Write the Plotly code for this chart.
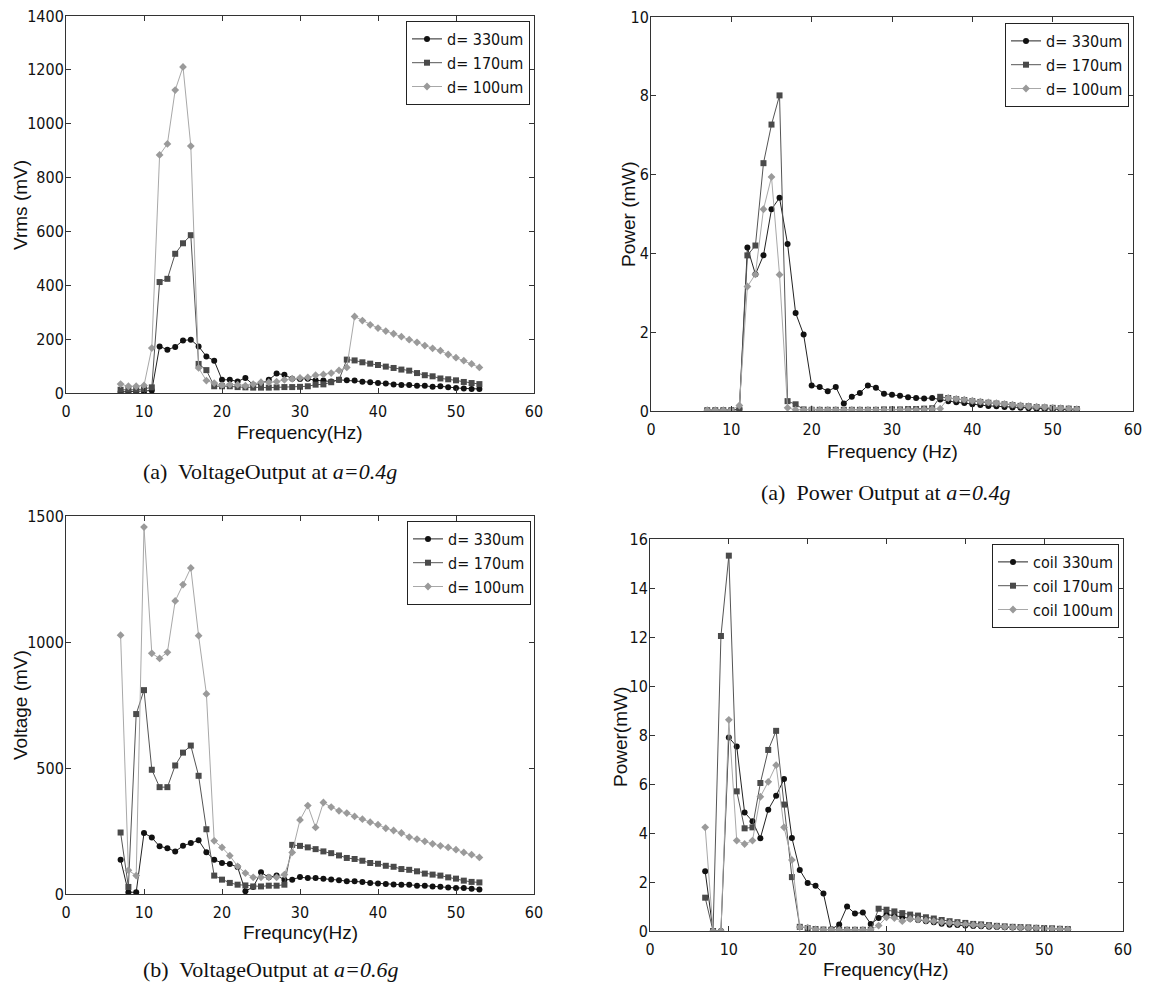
import plotly.graph_objects as go

# page body has an 8px margin: the figure is drawn from (8, 8)
OFF = 8
W, H = 1152 - OFF, 985 - OFF

freq = list(range(7, 54))

# ---- (a) Voltage output at a=0.4g (mV)
v04_330 = [4, 5, 5, 6, 9, 173, 161, 171, 195, 198, 173, 136, 120, 49, 49, 43, 56, 31, 35, 49,
           72, 68, 53, 52, 53, 47, 46, 43, 49, 47, 46, 42, 40, 37, 35, 32, 30, 30, 27, 27,
           23, 25, 21, 19, 17, 15, 15]
v04_170 = [12, 12, 12, 15, 21, 412, 424, 517, 556, 586, 108, 85, 25, 25, 25, 22, 21, 20, 20, 20,
           21, 22, 22, 23, 25, 31, 32, 40, 49, 124, 121, 114, 109, 104, 98, 93, 87, 83, 74, 66,
           62, 54, 51, 47, 41, 37, 33]
v04_100 = [33, 25, 25, 28, 167, 884, 925, 1125, 1211, 917, 93, 46, 37, 28, 31, 31, 27, 33, 40, 40,
           42, 49, 53, 56, 58, 66, 69, 74, 84, 95, 284, 269, 253, 241, 230, 220, 209, 198, 188, 176,
           166, 157, 143, 131, 120, 108, 95]

# ---- (a) Power output at a=0.4g (mW)
p04_330 = [0.02, 0.02, 0.02, 0.02, 0.05, 4.15, 3.47, 3.95, 5.12, 5.41, 4.24, 2.49, 1.94, 0.65, 0.61,
           0.50, 0.61, 0.19, 0.36, 0.46, 0.65, 0.59, 0.44, 0.41, 0.39, 0.35, 0.33, 0.32, 0.33, 0.29,
           0.25, 0.22, 0.20, 0.17, 0.15, 0.13, 0.12, 0.10, 0.09, 0.08, 0.07, 0.06, 0.05, 0.04, 0.04,
           0.03, 0.03]
p04_170 = [0.02, 0.02, 0.02, 0.02, 0.03, 3.95, 4.20, 6.29, 7.27, 8.01, 0.25, 0.17, 0.04, 0.03, 0.03,
           0.03, 0.03, 0.03, 0.03, 0.03, 0.03, 0.03, 0.04, 0.04, 0.04, 0.05, 0.05, 0.06, 0.07, 0.36,
           0.33, 0.30, 0.28, 0.25, 0.23, 0.21, 0.19, 0.17, 0.15, 0.13, 0.12, 0.10, 0.09, 0.08, 0.07,
           0.06, 0.05]
p04_100 = [0.02, 0.02, 0.02, 0.02, 0.14, 3.16, 3.47, 5.12, 5.94, 3.46, 0.08, 0.03, 0.03, 0.05, 0.03,
           0.03, 0.03, 0.03, 0.03, 0.03, 0.03, 0.03, 0.03, 0.03, 0.03, 0.03, 0.03, 0.04, 0.05, 0.06,
           0.33, 0.31, 0.29, 0.26, 0.24, 0.22, 0.20, 0.18, 0.16, 0.14, 0.12, 0.11, 0.10, 0.08, 0.07,
           0.06, 0.05]

# ---- (b) Voltage output at a=0.6g (mV)
v06_330 = [136, 7, 7, 242, 224, 189, 182, 169, 191, 202, 213, 166, 136, 123, 119, 107, 11, 28, 86, 66,
           73, 57, 57, 67, 63, 63, 61, 58, 55, 51, 51, 48, 44, 42, 40, 38, 37, 37, 33, 33,
           30, 29, 26, 24, 24, 21, 18]
v06_170 = [244, 28, 714, 809, 493, 424, 424, 510, 561, 589, 469, 257, 73, 57, 44, 37, 34, 30, 30, 33,
           33, 37, 195, 191, 185, 178, 169, 162, 153, 143, 139, 132, 123, 120, 112, 108, 99, 96, 90, 81,
           77, 73, 66, 61, 53, 48, 46]
v06_100 = [1027, 94, 73, 1456, 955, 935, 959, 1163, 1228, 1294, 1025, 794, 211, 185, 152, 110, 83, 66, 66, 66,
           66, 77, 165, 294, 351, 264, 363, 345, 330, 321, 308, 297, 285, 275, 261, 252, 242, 226, 218, 209,
           199, 191, 185, 176, 165, 156, 145]

# ---- Power output at a=0.6g (mW)
p06_330 = [2.44, 0.0, 0.0, 7.90, 7.53, 4.84, 4.48, 3.79, 4.95, 5.52, 6.20, 3.80, 2.49, 1.96, 1.85,
           1.53, 0.07, 0.27, 1.00, 0.71, 0.76, 0.29, 0.53, 0.67, 0.63, 0.56, 0.50, 0.45, 0.40, 0.36,
           0.30, 0.26, 0.24, 0.22, 0.20, 0.19, 0.17, 0.16, 0.15, 0.14, 0.13, 0.12, 0.11, 0.10, 0.09,
           0.08, 0.07]
p06_170 = [1.36, 0.0, 12.04, 15.32, 5.70, 4.19, 4.23, 6.04, 7.39, 8.17, 5.16, 2.20, 0.17, 0.12, 0.08,
           0.06, 0.05, 0.05, 0.05, 0.05, 0.05, 0.05, 0.91, 0.87, 0.80, 0.73, 0.67, 0.63, 0.56, 0.51,
           0.45, 0.40, 0.36, 0.33, 0.29, 0.27, 0.24, 0.21, 0.19, 0.17, 0.16, 0.15, 0.13, 0.12, 0.11,
           0.09, 0.08]
p06_100 = [4.23, 0.0, 0.0, 8.62, 3.69, 3.55, 3.69, 5.48, 6.09, 6.77, 4.23, 2.90, 0.16, 0.14, 0.07,
           0.05, 0.05, 0.04, 0.04, 0.04, 0.04, 0.05, 0.22, 0.56, 0.53, 0.40, 0.49, 0.47, 0.43, 0.40,
           0.36, 0.33, 0.30, 0.27, 0.25, 0.23, 0.21, 0.19, 0.17, 0.15, 0.14, 0.13, 0.12, 0.10, 0.09,
           0.08, 0.07]

names_d = ["d= 330um", "d= 170um", "d= 100um"]
names_coil = ["coil 330um", "coil 170um", "coil 100um"]

TICKFONT = "Liberation Sans Narrow, DejaVu Sans Condensed, Arial Narrow, sans-serif"
SANS = "Liberation Sans, Arial, sans-serif"
SERIF = "Liberation Serif, Times New Roman, serif"

styles = [
    dict(color="#111111", symbol="circle", size=6, lw=1.0, lc="#222222"),
    dict(color="#4a4a4a", symbol="square", size=6, lw=1.0, lc="#555555"),
    dict(color="#9a9a9a", symbol="diamond", size=6, lw=1.0, lc="#a8a8a8"),
]

# panel pixel boxes in the page: (left, right, top, bottom)
boxes = [
    (66, 534, 16, 393),
    (651, 1133, 17, 411),
    (66, 534, 516, 894),
    (650, 1123, 539, 931),
]


def px(x):
    return (x - OFF) / W


def py(y):
    return 1 - (y - OFF) / H


fig = go.Figure()

panels = [
    ([v04_330, v04_170, v04_100], names_d, 1400, 200),
    ([p04_330, p04_170, p04_100], names_d, 10, 2),
    ([v06_330, v06_170, v06_100], names_d, 1500, 500),
    ([p06_330, p06_170, p06_100], names_coil, 16, 2),
]

legend_pos = [(530, 21), (1129, 23), (531, 521), (1119, 544)]

for i, (series, names, ymax, dtick) in enumerate(panels):
    k = i + 1
    xa = "x" if k == 1 else f"x{k}"
    ya = "y" if k == 1 else f"y{k}"
    lg = "legend" if k == 1 else f"legend{k}"
    for vals, name, st in zip(series, names, styles):
        fig.add_trace(go.Scatter(
            x=freq, y=vals, name=name, mode="lines+markers",
            xaxis=xa, yaxis=ya, legend=lg,
            line=dict(color=st["lc"], width=st["lw"]),
            marker=dict(color=st["color"], symbol=st["symbol"], size=st["size"],
                        line=dict(width=0)),
        ))
    l, r, t, b = boxes[i]
    axcommon = dict(showline=True, linecolor="#333333", linewidth=1, mirror="allticks",
                    ticks="inside", ticklen=5, tickcolor="#333333", showgrid=False,
                    zeroline=False, automargin=False, ticklabeloverflow="allow",
                    tickfont=dict(family=TICKFONT, size=16, color="#111111"))
    xkey = "xaxis" if k == 1 else f"xaxis{k}"
    ykey = "yaxis" if k == 1 else f"yaxis{k}"
    fig.update_layout(**{
        xkey: dict(domain=[px(l), px(r)], range=[0, 60], dtick=10, tick0=0,
                   anchor=ya, ticklabelstandoff=4, **axcommon),
        ykey: dict(domain=[py(b), py(t)], range=[0, ymax], dtick=dtick, tick0=0,
                   anchor=xa, ticklabelstandoff=-2, **axcommon),
    })
    lx, ly = legend_pos[i]
    fig.update_layout(**{lg: dict(
        x=px(lx), y=py(ly), xanchor="right", yanchor="top",
        bgcolor="white", bordercolor="#222222", borderwidth=1,
        font=dict(family=TICKFONT, size=16, color="#111111"),
        tracegroupgap=0, itemwidth=30,
    )})

ann = []
# axis titles
xtitles = [("Frequency(Hz)", 300, 432), ("Frequency (Hz)", 892, 451),
           ("Frequncy(Hz)", 300, 932), ("Frequency(Hz)", 886, 969)]
for txt, x, y in xtitles:
    ann.append(dict(text=txt, x=px(x), y=py(y), xref="paper", yref="paper",
                    xanchor="center", yanchor="middle",
                    showarrow=False, font=dict(family=SANS, size=19, color="#111111")))
ytitles = [("Vrms (mV)", 20, 205), ("Power (mW)", 628, 214),
           ("Voltage (mV)", 20, 705), ("Power(mW)", 620, 737)]
for txt, x, y in ytitles:
    ann.append(dict(text=txt, x=px(x), y=py(y), xref="paper", yref="paper",
                    xanchor="center", yanchor="middle",
                    showarrow=False, textangle=-90,
                    font=dict(family=SANS, size=19, color="#111111")))
captions = [("(a)  VoltageOutput at <i>a=0.4g</i>", 270, 471),
            ("(a)  Power Output at <i>a=0.4g</i>", 885, 492),
            ("(b)  VoltageOutput at <i>a=0.6g</i>", 270, 969)]
for txt, x, y in captions:
    ann.append(dict(text=txt, x=px(x), y=py(y), xref="paper", yref="paper",
                    xanchor="center", yanchor="middle",
                    showarrow=False, font=dict(family=SERIF, size=22, color="#111111")))

fig.update_layout(
    width=W, height=H, autosize=False,
    margin=dict(l=0, r=0, t=0, b=0, pad=0, autoexpand=False),
    paper_bgcolor="white", plot_bgcolor="white",
    annotations=ann, showlegend=True,
)

fig.write_html("out.html")
